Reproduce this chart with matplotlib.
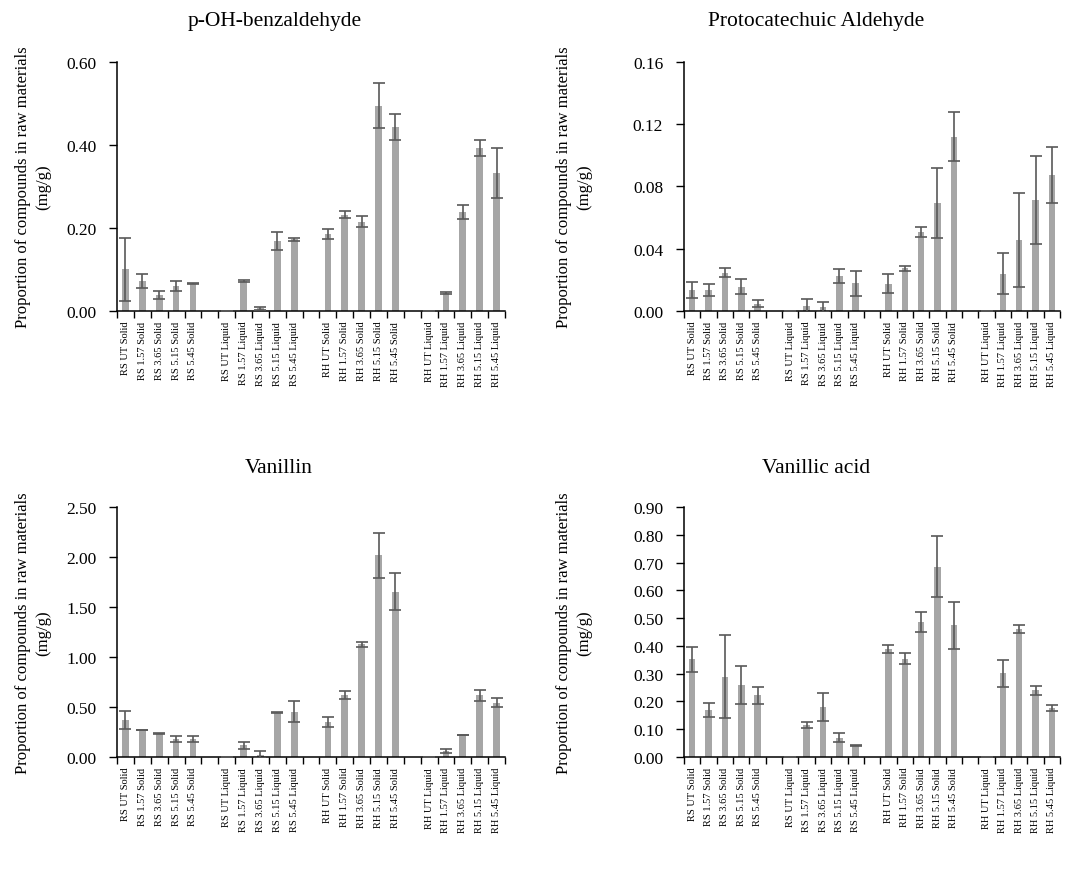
import numpy as np
import matplotlib.pyplot as plt

plt.rcParams['font.family'] = ['Liberation Serif', 'DejaVu Serif']

# categorias (4 grupos de 5)
categorias = ['RS UT Solid', 'RS 1.57 Solid', 'RS 3.65 Solid', 'RS 5.15 Solid', 'RS 5.45 Solid',
              'RS UT Liquid', 'RS 1.57 Liquid', 'RS 3.65 Liquid', 'RS 5.15 Liquid', 'RS 5.45 Liquid',
              'RH UT Solid', 'RH 1.57 Solid', 'RH 3.65 Solid', 'RH 5.15 Solid', 'RH 5.45 Solid',
              'RH UT Liquid', 'RH 1.57 Liquid', 'RH 3.65 Liquid', 'RH 5.15 Liquid', 'RH 5.45 Liquid']

# p-OH-benzaldehyde
phb = [0.100, 0.072, 0.038, 0.060, 0.066,
       0.0, 0.072, 0.006, 0.169, 0.173,
       0.185, 0.232, 0.215, 0.495, 0.443,
       0.0, 0.044, 0.239, 0.392, 0.332]
phb_err = [0.077, 0.016, 0.009, 0.013, 0.001,
           0.0, 0.002, 0.004, 0.022, 0.004,
           0.012, 0.008, 0.013, 0.055, 0.032,
           0.0, 0.002, 0.017, 0.019, 0.060]

# Protocatechuic Aldehyde
pca = [0.0135, 0.0135, 0.0247, 0.0157, 0.0047,
       0.0, 0.0032, 0.0026, 0.0225, 0.0178,
       0.0176, 0.0273, 0.0505, 0.0694, 0.1121,
       0.0, 0.0240, 0.0457, 0.0713, 0.0874]
pca_err = [0.005, 0.004, 0.003, 0.005, 0.0024,
           0.0, 0.0048, 0.0034, 0.0043, 0.008,
           0.006, 0.0017, 0.0032, 0.0225, 0.016,
           0.0, 0.013, 0.030, 0.028, 0.018]

# Vanillin
van = [0.37, 0.27, 0.237, 0.183, 0.183,
       0.0, 0.117, 0.023, 0.443, 0.453,
       0.35, 0.617, 1.127, 2.017, 1.653,
       0.0, 0.06, 0.22, 0.617, 0.543]
van_err = [0.09, 0.004, 0.004, 0.03, 0.03,
           0.0, 0.037, 0.037, 0.005, 0.107,
           0.047, 0.04, 0.027, 0.227, 0.187,
           0.0, 0.017, 0.004, 0.053, 0.043]

# Vanillic acid
vac = [0.352, 0.169, 0.289, 0.259, 0.222,
       0.0, 0.115, 0.180, 0.070, 0.042,
       0.388, 0.354, 0.487, 0.685, 0.474,
       0.0, 0.301, 0.462, 0.240, 0.178]
vac_err = [0.045, 0.025, 0.150, 0.067, 0.030,
           0.0, 0.010, 0.049, 0.015, 0.003,
           0.015, 0.019, 0.036, 0.110, 0.084,
           0.0, 0.048, 0.014, 0.017, 0.011]

titulos = ['p-OH-benzaldehyde', 'Protocatechuic Aldehyde', 'Vanillin', 'Vanillic acid']
ylims = [(0.6, 0.2, '%.2f'), (0.16, 0.04, '%.2f'), (2.5, 0.5, '%.2f'), (0.9, 0.1, '%.2f')]

# posiciones: 5 barras por grupo y un hueco entre grupos
x = np.array([g * 6 + i for g in range(4) for i in range(5)])

fig = plt.figure(figsize=(10.65, 8.7), dpi=100)

# [left, bottom, width, height] en fraccion de figura
posiciones = [[0.1099, 0.6414, 0.3643, 0.2862],
              [0.6423, 0.6414, 0.3531, 0.2862],
              [0.1099, 0.1287, 0.3643, 0.2874],
              [0.6423, 0.1287, 0.3531, 0.2874]]
tit_xy = [(0.258, 0.975), (0.766, 0.975), (0.262, 0.462), (0.766, 0.462)]
ylab_x = [0.031, 0.539]

datos = [(phb, phb_err), (pca, pca_err), (van, van_err), (vac, vac_err)]

for k in range(4):
    ax = fig.add_axes(posiciones[k])
    vals, errs = datos[k]
    ax.bar(x, vals, width=0.4, color='#a6a6a6', zorder=2)
    ax.errorbar(x, vals, yerr=errs, fmt='none', ecolor='#595959',
                elinewidth=1.2, capsize=4.5, capthick=1.2, zorder=3)

    ymax, paso, fmt = ylims[k]
    ax.set_ylim(0, ymax)
    ax.set_yticks(np.arange(0, ymax + paso / 2, paso))
    ax.set_yticklabels([fmt % v for v in np.arange(0, ymax + paso / 2, paso)], fontsize=12.5)
    ax.set_xlim(-0.5, 22.5)

    # etiquetas en el centro, marcas entre categorias
    ax.set_xticks(x)
    ax.set_xticklabels(categorias, rotation=90, fontsize=7.5, va='top')
    ax.set_xticks(np.arange(-0.5, 23, 1), minor=True)
    ax.tick_params(axis='x', which='major', length=0, pad=7)
    ax.tick_params(axis='x', which='minor', length=5, width=1, direction='out')
    ax.tick_params(axis='y', length=6, width=1, pad=9)

    for s in ['top', 'right']:
        ax.spines[s].set_visible(False)
    for s in ['left', 'bottom']:
        ax.spines[s].set_linewidth(1.1)

    fig.text(tit_xy[k][0], tit_xy[k][1], titulos[k], fontsize=15.5,
             ha='center', va='center')
    fig.text(ylab_x[k % 2], posiciones[k][1] + posiciones[k][3] / 2,
             'Proportion of compounds in raw materials\n(mg/g)',
             rotation=90, fontsize=12, ha='center', va='center',
             multialignment='center', linespacing=1.4)

plt.savefig('out.png', dpi=100)
